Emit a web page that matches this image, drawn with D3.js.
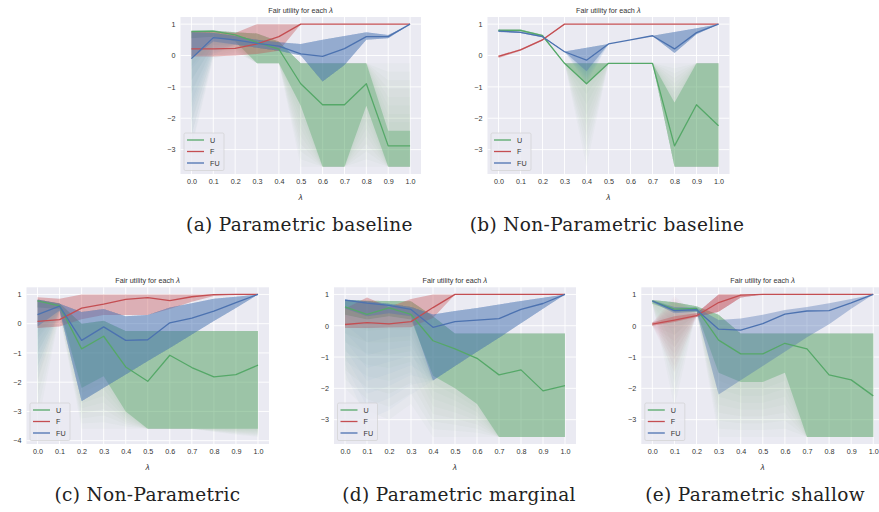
<!DOCTYPE html>
<html>
<head>
<meta charset="utf-8">
<script src="https://cdn.jsdelivr.net/npm/d3@7"></script>
<style>
  body { margin: 0; background: #ffffff; }
  svg { display: block; }
</style>
</head>
<body>
<svg id="fig" width="879" height="512"></svg>
<script>
// ---- shared axes ----
const lambdas = [0.0, 0.1, 0.2, 0.3, 0.4, 0.5, 0.6, 0.7, 0.8, 0.9, 1.0];
const xTickLabels = ["0.0", "0.1", "0.2", "0.3", "0.4", "0.5", "0.6", "0.7", "0.8", "0.9", "1.0"];
const yTicksStd = [1, 0, -1, -2, -3];
const yTicksWide = [1, 0, -1, -2, -3, -4];
const seriesNames = ["U", "F", "FU"];
const captions = ["(a) Parametric baseline", "(b) Non-Parametric baseline",
                  "(c) Non-Parametric", "(d) Parametric marginal", "(e) Parametric shallow"];

// ---- (a) Parametric baseline ----
const aU_mean = [0.76, 0.78, 0.66, 0.42, 0.20, -0.90, -1.57, -1.57, -0.90, -2.88, -2.88];
const aU_lo   = [0.55, 0.60, 0.45, -0.25, -0.25, -1.60, -3.55, -3.55, -1.60, -3.55, -3.55];
const aU_hi   = [0.80, 0.80, 0.74, 0.70, 0.45, -0.25, -0.25, -0.25, -0.25, -2.40, -2.40];
const aU_lo2  = [-3.00, -0.10, 0.10, -0.25, -0.25, -3.55, -3.55, -3.55, -3.55, -3.55, -3.55];
const aU_hi2  = [0.80, 0.80, 0.74, 0.70, 0.45, -0.25, -0.25, -0.25, -0.25, -0.25, -0.25];
const aF_mean = [0.21, 0.21, 0.23, 0.37, 0.60, 1, 1, 1, 1, 1, 1];
const aF_lo   = [-0.03, -0.03, 0.00, 0.05, 0.15, 1, 1, 1, 1, 1, 1];
const aF_hi   = [0.77, 0.77, 0.72, 1.00, 1.00, 1, 1, 1, 1, 1, 1];
const aFU_mean = [-0.10, 0.57, 0.50, 0.39, 0.30, 0.05, -0.03, 0.22, 0.60, 0.60, 1.00];
const aFU_lo   = [-0.10, 0.45, 0.35, 0.25, 0.15, 0.00, -0.83, -0.30, 0.50, 0.55, 1.00];
const aFU_hi   = [0.74, 0.72, 0.62, 0.50, 0.42, 0.37, 0.50, 0.62, 0.74, 0.65, 1.00];
const aFU_lo2  = [-2.90, 0.00, 0.35, 0.25, 0.15, 0.00, -0.83, -0.30, 0.50, 0.55, 1.00];

// ---- (b) Non-Parametric baseline ----
const bU_mean = [0.80, 0.80, 0.63, -0.25, -0.90, -0.25, -0.25, -0.25, -2.88, -1.57, -2.24];
const bU_lo   = [0.77, 0.77, 0.60, -0.25, -0.90, -0.25, -0.25, -0.25, -3.55, -3.55, -3.55];
const bU_hi   = [0.83, 0.83, 0.66, -0.25, -0.25, -0.25, -0.25, -0.25, -1.50, -0.25, -0.25];
const bU_lo2  = [0.77, 0.77, 0.60, -0.25, -3.55, -0.25, -0.25, -0.25, -3.55, -3.55, -3.55];
const bU_hi2  = [0.83, 0.83, 0.66, -0.25, -0.25, -0.25, -0.25, -0.25, -0.25, -0.25, -0.25];
const bF_mean = [-0.03, 0.18, 0.50, 1, 1, 1, 1, 1, 1, 1, 1];
const bF_lo   = [-0.08, 0.15, 0.47, 1, 1, 1, 1, 1, 1, 1, 1];
const bF_hi   = [0.00, 0.21, 0.53, 1, 1, 1, 1, 1, 1, 1, 1];
const bFU_mean = [0.78, 0.74, 0.60, 0.12, -0.15, 0.37, 0.50, 0.63, 0.21, 0.73, 1.00];
const bFU_lo   = [0.75, 0.72, 0.58, 0.12, -0.50, 0.37, 0.50, 0.62, 0.08, 0.68, 1.00];
const bFU_hi   = [0.82, 0.76, 0.62, 0.13, 0.25, 0.37, 0.50, 0.63, 0.75, 0.87, 1.00];
const bFU_lo2  = [0.75, 0.72, 0.58, 0.12, -0.90, 0.37, 0.50, 0.62, 0.08, 0.68, 1.00];

// ---- (c) Non-Parametric ----
const cU_mean = [0.78, 0.61, -0.86, -0.43, -1.48, -1.97, -1.08, -1.50, -1.82, -1.74, -1.42];
const cU_lo   = [0.55, 0.50, -2.20, -1.80, -3.00, -3.59, -3.59, -3.59, -3.59, -3.59, -3.59];
const cU_hi   = [0.82, 0.70, 0.00, 0.10, -0.25, -0.25, -0.25, -0.25, -0.25, -0.25, -0.25];
const cU_lo2  = [-3.50, 0.30, -3.59, -3.59, -3.59, -3.59, -3.59, -3.59, -3.70, -3.80, -3.87];
const cF_mean = [0.08, 0.14, 0.53, 0.67, 0.83, 0.89, 0.79, 0.92, 0.99, 1.00, 1.00];
const cF_lo   = [-0.15, -0.10, 0.15, 0.30, 0.30, 0.30, 0.50, 0.75, 0.95, 1.00, 1.00];
const cF_hi   = [0.90, 0.85, 1.00, 1.00, 1.00, 1.00, 1.00, 1.00, 1.00, 1.00, 1.00];
const cFU_mean = [0.31, 0.60, -0.57, -0.11, -0.57, -0.55, 0.03, 0.19, 0.43, 0.72, 1.00];
const cFU_lo   = [-0.10, 0.45, -2.65, -2.19, -1.74, -1.28, -0.83, -0.37, 0.09, 0.54, 1.00];
const cFU_hi   = [0.83, 0.68, 0.40, 0.50, 0.25, 0.30, 0.55, 0.70, 0.85, 0.92, 1.00];
const cFU_lo2  = [-1.90, 0.45, -2.65, -2.19, -1.74, -1.28, -0.83, -0.37, 0.09, 0.54, 1.00];

// ---- (d) Parametric marginal ----
const dU_mean = [0.60, 0.36, 0.57, 0.36, -0.48, -0.74, -1.04, -1.57, -1.41, -2.08, -1.91];
const dU_lo   = [0.35, 0.20, 0.30, 0.20, -1.60, -2.00, -2.50, -3.55, -3.55, -3.55, -3.55];
const dU_hi   = [0.82, 0.80, 0.79, 0.78, 0.30, -0.25, -0.25, -0.25, -0.25, -0.25, -0.25];
const dU_lo2  = [-2.00, -2.70, -3.00, -2.50, -3.55, -3.55, -3.55, -3.55, -3.55, -3.55, -3.55];
const dF_mean = [0.04, 0.10, 0.06, 0.13, 0.58, 1, 1, 1, 1, 1, 1];
const dF_lo   = [-0.07, -0.07, -0.06, -0.05, 0.25, 1, 1, 1, 1, 1, 1];
const dF_hi   = [0.55, 0.90, 0.60, 0.85, 1.00, 1, 1, 1, 1, 1, 1];
const dFU_mean = [0.82, 0.72, 0.65, 0.52, -0.05, 0.13, 0.18, 0.23, 0.52, 0.71, 1.00];
const dFU_lo   = [0.55, 0.30, 0.40, 0.30, -1.75, -1.29, -0.83, -0.38, 0.08, 0.54, 1.00];
const dFU_hi   = [0.84, 0.78, 0.70, 0.60, 0.36, 0.47, 0.57, 0.68, 0.79, 0.89, 1.00];
const dFU_lo2  = [-1.50, -3.00, -2.70, -2.20, -1.75, -1.29, -0.83, -0.38, 0.08, 0.54, 1.00];

// ---- (e) Parametric shallow ----
const eU_mean = [0.79, 0.53, 0.55, -0.46, -0.90, -0.90, -0.56, -0.74, -1.57, -1.73, -2.24];
const eU_lo   = [0.70, 0.45, 0.45, -1.50, -1.80, -1.80, -1.50, -3.55, -3.55, -3.55, -3.55];
const eU_hi   = [0.82, 0.75, 0.62, 0.35, -0.25, -0.25, -0.25, -0.25, -0.25, -0.25, -0.25];
const eU_lo2  = [0.70, -2.60, 0.45, -3.55, -3.55, -3.55, -3.55, -3.55, -3.55, -3.55, -3.55];
const eF_mean = [0.05, 0.18, 0.32, 0.74, 0.98, 1, 1, 1, 1, 1, 1];
const eF_lo   = [0.00, 0.12, 0.28, 0.45, 0.90, 1, 1, 1, 1, 1, 1];
const eF_hi   = [0.10, 0.30, 0.40, 1.00, 1.00, 1, 1, 1, 1, 1, 1];
const eF_lo2  = [0.00, -1.50, 0.28, 0.45, 0.90, 1, 1, 1, 1, 1, 1];
const eF_hi2  = [0.10, 0.95, 0.40, 1.00, 1.00, 1, 1, 1, 1, 1, 1];
const eFU_mean = [0.79, 0.48, 0.51, -0.11, -0.14, 0.07, 0.37, 0.47, 0.48, 0.73, 1.00];
const eFU_lo   = [0.75, 0.40, 0.45, -2.20, -1.74, -1.29, -0.83, -0.37, 0.05, 0.54, 1.00];
const eFU_hi   = [0.82, 0.60, 0.58, 0.18, 0.23, 0.35, 0.50, 0.60, 0.72, 0.85, 1.00];

// ---- styling ----
const colors = { U: "#55A868", F: "#C44E52", FU: "#4C72B0" };
const CORE_ALPHA = 0.38;
const FAN_STEPS = 8;
const FAN_ALPHA = 0.032;

// per-panel table assembled from the arrays above
const panels = [
  { cap: captions[0], box: { left: 180.5, right: 421, top: 17, bottom: 174 }, yTicks: yTicksStd,
    U: { mean: aU_mean, lo: aU_lo, hi: aU_hi, lo2: aU_lo2, hi2: aU_hi2 },
    F: { mean: aF_mean, lo: aF_lo, hi: aF_hi },
    FU: { mean: aFU_mean, lo: aFU_lo, hi: aFU_hi, lo2: aFU_lo2 } },
  { cap: captions[1], box: { left: 487.5, right: 729.5, top: 17, bottom: 174 }, yTicks: yTicksStd,
    U: { mean: bU_mean, lo: bU_lo, hi: bU_hi, lo2: bU_lo2, hi2: bU_hi2 },
    F: { mean: bF_mean, lo: bF_lo, hi: bF_hi },
    FU: { mean: bFU_mean, lo: bFU_lo, hi: bFU_hi, lo2: bFU_lo2 } },
  { cap: captions[2], box: { left: 26.5, right: 269, top: 287.3, bottom: 444 }, yTicks: yTicksWide,
    U: { mean: cU_mean, lo: cU_lo, hi: cU_hi, lo2: cU_lo2 },
    F: { mean: cF_mean, lo: cF_lo, hi: cF_hi },
    FU: { mean: cFU_mean, lo: cFU_lo, hi: cFU_hi, lo2: cFU_lo2 } },
  { cap: captions[3], box: { left: 334, right: 576, top: 287.3, bottom: 444 }, yTicks: yTicksStd,
    U: { mean: dU_mean, lo: dU_lo, hi: dU_hi, lo2: dU_lo2 },
    F: { mean: dF_mean, lo: dF_lo, hi: dF_hi },
    FU: { mean: dFU_mean, lo: dFU_lo, hi: dFU_hi, lo2: dFU_lo2 } },
  { cap: captions[4], box: { left: 641.3, right: 884.3, top: 287.3, bottom: 444 }, yTicks: yTicksStd,
    U: { mean: eU_mean, lo: eU_lo, hi: eU_hi, lo2: eU_lo2 },
    F: { mean: eF_mean, lo: eF_lo, hi: eF_hi, lo2: eF_lo2, hi2: eF_hi2 },
    FU: { mean: eFU_mean, lo: eFU_lo, hi: eFU_hi } }
];
const captionPos = [[299.5, 231], [607, 231], [147.5, 501], [459, 501], [755, 501]];

const svg = d3.select("#fig");
const SANS = "'Liberation Sans', Arial, sans-serif";
const TEXT = "#333333";

panels.forEach((p, pi) => {
  const b = p.box;
  const x = d3.scaleLinear().domain([-0.05, 1.05]).range([b.left, b.right]);
  // y limits: data extent padded by 5% on each side
  const vals = [];
  seriesNames.forEach(n => ["mean", "lo", "hi", "lo2", "hi2"].forEach(k => { if (p[n][k]) vals.push(...p[n][k]); }));
  const [vmin, vmax] = d3.extent(vals);
  const pad = (vmax - vmin) * 0.05;
  const y = d3.scaleLinear().domain([vmin - pad, vmax + pad]).range([b.bottom, b.top]);

  const g = svg.append("g");
  const clipId = "clip" + pi;
  g.append("clipPath").attr("id", clipId).append("rect")
    .attr("x", b.left).attr("y", b.top).attr("width", b.right - b.left).attr("height", b.bottom - b.top);

  // background + grid
  g.append("rect").attr("x", b.left).attr("y", b.top)
    .attr("width", b.right - b.left).attr("height", b.bottom - b.top).attr("fill", "#EAEAF2");
  g.append("g").selectAll("line").data(lambdas).join("line")
    .attr("x1", d => x(d)).attr("x2", d => x(d)).attr("y1", b.top).attr("y2", b.bottom)
    .attr("stroke", "#ffffff").attr("stroke-width", 0.9);
  g.append("g").selectAll("line").data(p.yTicks).join("line")
    .attr("x1", b.left).attr("x2", b.right).attr("y1", d => y(d)).attr("y2", d => y(d))
    .attr("stroke", "#ffffff").attr("stroke-width", 0.9);

  // bands: faint outer fan then the denser core
  const bands = g.append("g").attr("clip-path", `url(#${clipId})`);
  const area = d3.area().x((d, i) => x(lambdas[i])).y0(d => y(d[0])).y1(d => y(d[1]));
  seriesNames.forEach(n => {
    const s = p[n], c = colors[n];
    if (s.lo2 || s.hi2) {
      const lo2 = s.lo2 || s.lo, hi2 = s.hi2 || s.hi;
      for (let k = 1; k <= FAN_STEPS; k++) {
        const t = k / FAN_STEPS;
        const pts = lambdas.map((_, i) => [s.lo[i] + (lo2[i] - s.lo[i]) * t, s.hi[i] + (hi2[i] - s.hi[i]) * t]);
        bands.append("path").attr("d", area(pts)).attr("fill", c).attr("fill-opacity", FAN_ALPHA);
      }
    }
    bands.append("path").attr("d", area(lambdas.map((_, i) => [s.lo[i], s.hi[i]])))
      .attr("fill", c).attr("fill-opacity", CORE_ALPHA);
  });

  // mean lines
  const line = d3.line().x((d, i) => x(lambdas[i])).y(d => y(d));
  seriesNames.forEach(n => {
    bands.append("path").attr("d", line(p[n].mean)).attr("fill", "none")
      .attr("stroke", colors[n]).attr("stroke-width", 1.3).attr("stroke-linejoin", "round");
  });

  // axes (labels only, seaborn style)
  const xAxis = d3.axisBottom(x).tickValues(lambdas).tickSize(0).tickPadding(5)
    .tickFormat((d, i) => xTickLabels[i]);
  const gx = g.append("g").attr("transform", `translate(0,${b.bottom})`).call(xAxis);
  const yAxis = d3.axisLeft(y).tickValues(p.yTicks).tickSize(0).tickPadding(5)
    .tickFormat(d => d < 0 ? "\u2212" + Math.abs(d) : String(d));
  const gy = g.append("g").attr("transform", `translate(${b.left},0)`).call(yAxis);
  [gx, gy].forEach(a => {
    a.select(".domain").remove();
    a.selectAll("text").attr("fill", TEXT).attr("font-family", SANS).attr("font-size", 7.2);
  });

  const xc = (x(0) + x(1)) / 2;
  // axis label and title
  g.append("text").attr("x", xc).attr("y", b.bottom + 25.5).attr("text-anchor", "middle")
    .attr("font-family", "'DejaVu Sans', sans-serif").attr("font-style", "italic")
    .attr("font-size", 7.5).attr("fill", TEXT).text("\u03BB");
  const title = g.append("text").attr("x", xc).attr("y", b.top - 4.5).attr("text-anchor", "middle")
    .attr("font-family", SANS).attr("font-size", 7.2).attr("fill", TEXT);
  title.append("tspan").text("Fair utility for each ");
  title.append("tspan").attr("font-family", "'DejaVu Sans', sans-serif").attr("font-style", "italic").text("\u03BB");

  // legend
  const lg = g.append("g").attr("transform", `translate(${b.left + 3.5},${b.bottom - 41})`);
  lg.append("rect").attr("width", 40).attr("height", 37.5).attr("rx", 1.5)
    .attr("fill", "#EAEAF2").attr("fill-opacity", 0.85).attr("stroke", "#cccccc").attr("stroke-width", 0.6);
  seriesNames.forEach((n, i) => {
    const yy = 7 + i * 11.5;
    lg.append("line").attr("x1", 3).attr("x2", 20).attr("y1", yy).attr("y2", yy)
      .attr("stroke", colors[n]).attr("stroke-width", 1.3);
    lg.append("text").attr("x", 26).attr("y", yy + 2.5).attr("font-family", SANS)
      .attr("font-size", 7.2).attr("fill", TEXT).text(n);
  });

  // caption
  svg.append("text").attr("x", captionPos[pi][0]).attr("y", captionPos[pi][1]).attr("text-anchor", "middle")
    .attr("font-family", "'DejaVu Serif', serif").attr("font-size", 18.5).attr("letter-spacing", 0.35)
    .attr("fill", "#222222").text(p.cap);
});
</script>
</body>
</html>
